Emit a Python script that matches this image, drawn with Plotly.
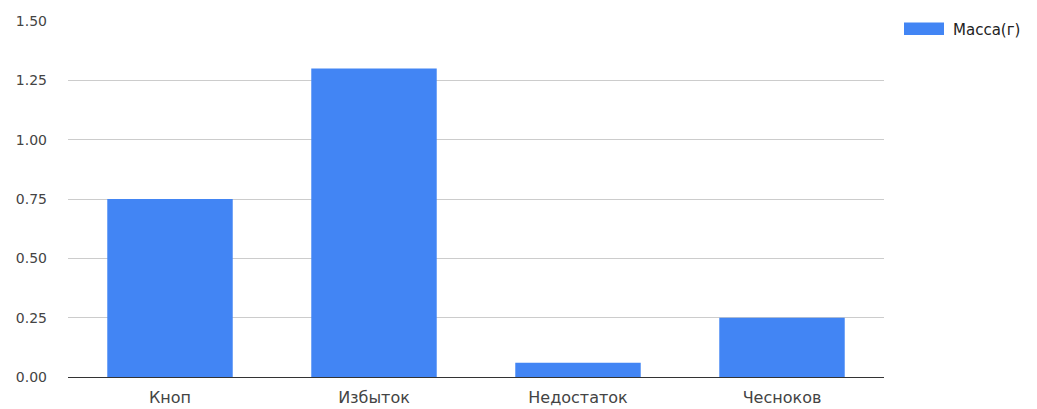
import plotly.graph_objects as go

categories = ["Кноп", "Избыток", "Недостаток", "Чесноков"]
values = [0.75, 1.30, 0.06, 0.25]
series_name = "Масса(г)"
y_ticks = [0, 0.25, 0.5, 0.75, 1.0, 1.25, 1.5]
y_tick_labels = ["0.00", "0.25", "0.50", "0.75", "1.00", "1.25", "1.50"]

BLUE = "#4285F4"
TEXT = "#444444"
FONT = "DejaVu Sans, Verdana, sans-serif"

fig = go.Figure(go.Bar(x=categories, y=values, name=series_name,
                       marker=dict(color=BLUE, line=dict(width=0)),
                       showlegend=False))

fig.update_layout(
    width=1037, height=409,
    margin=dict(l=68, r=153, t=21, b=32),
    paper_bgcolor="white", plot_bgcolor="white",
    bargap=0.385,
    font=dict(family=FONT, size=15, color=TEXT),
    xaxis=dict(showgrid=False, showline=False, ticks="", ticklabelstandoff=9,
               automargin=False, tickfont=dict(size=16, color=TEXT)),
    yaxis=dict(range=[0, 1.5], tickvals=y_ticks, ticktext=y_tick_labels,
               showgrid=True, gridcolor="#cccccc", gridwidth=1,
               zeroline=True, zerolinecolor="#333333", zerolinewidth=1,
               showline=False, ticks="", ticklabelstandoff=20, automargin=False,
               tickfont=dict(size=14, color=TEXT)),
    shapes=[dict(type="rect", xref="paper", yref="paper",
                 x0=(904 - 68) / 816, x1=(944 - 68) / 816,
                 y0=(377 - 35) / 356, y1=(377 - 22.5) / 356,
                 fillcolor=BLUE, line=dict(width=0))],
    annotations=[dict(text=series_name, xref="paper", yref="paper",
                      x=(951 - 68) / 816, y=(377 - 30) / 356,
                      xanchor="left", yanchor="middle", showarrow=False,
                      font=dict(size=15, color="#222222"))],
)

fig.write_html("out.html")
